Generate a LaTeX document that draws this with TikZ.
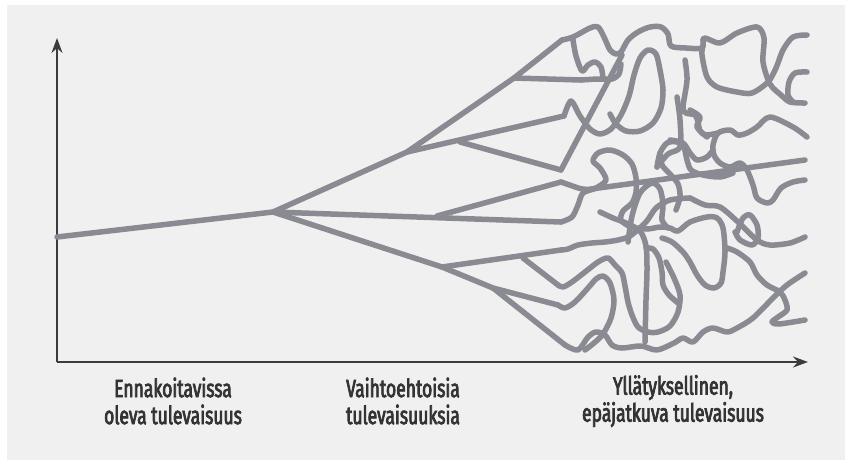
\documentclass[tikz,border=0pt]{standalone}
\usepackage{fontspec}
\usetikzlibrary{arrows.meta}
\newfontfamily\labfont{Fira Sans}[FakeStretch=0.70,FakeBold=3]
\definecolor{bgpage}{HTML}{F0F0F0}
\definecolor{strk}{HTML}{8A8A92}
\definecolor{axcol}{HTML}{3C3C3C}
\definecolor{txtcol}{HTML}{333333}
\begin{document}
\begin{tikzpicture}[x=1pt,y=-1pt,
  tg/.style={draw=strk,line width=5.5pt,line cap=round,line join=round},
  axisline/.style={draw=axcol,line width=1.5pt,-{Stealth[length=15pt,width=11pt]}},
  lab/.style={font=\labfont\fontsize{25}{27}\selectfont,text=txtcol,align=center,inner sep=0pt}]
\useasboundingbox (0,0) rectangle (848,461);
\fill[white] (0,0) rectangle (848,461);
\fill[bgpage] (7,5) rectangle (845,460);
% axes
\coordinate (O) at (57,362);
\coordinate (Ytop) at (57,38);
\coordinate (Xend) at (808,362);
\draw[axisline] (O) -- (Ytop);
\draw[axisline] (O) -- (Xend);
% straight branches
\coordinate (S) at (57,237);
\coordinate (B0) at (273,212);
\coordinate (U1) at (407,152);
\coordinate (U2) at (514,78);
\coordinate (S1) at (460,142);
\coordinate (M1) at (437,216);
\coordinate (L1) at (442,267);
\coordinate (L2) at (493,288);
\coordinate (L3) at (523,258);
\draw[tg] (S) -- (B0) -- (U1) -- (U2) -- (562,40);
\draw[tg] (U2) -- (581,80);
\draw[tg] (U1) -- (564,116);
\draw[tg] (S1) -- (561,170);
\draw[tg] (B0) -- (561,222);
\draw[tg] (M1) -- (561,182);
\draw[tg] (B0) -- (L1) -- (561,250);
\draw[tg] (L1) -- (L2) -- (558,305);
\draw[tg] (L3) -- (558,285);
\draw[tg] (L2) -- (565,345);
% tangle, upper part
\draw[tg] plot[smooth,tension=0.5] coordinates {(562,40) (573,37) (590,28) (598,27) (604,37) (610,50) (616,54) (621,52) (628,40) (638,32) (650,27) (661,27) (668,34) (671,46) (686,48) (702,48) (704,38) (720,43) (737,33) (757,27) (764,38) (763,62) (770,84) (781,95) (790,102) (805,103)};
\draw[tg] plot[smooth,tension=0.5] coordinates {(807,72) (795,73) (789,82) (788,95) (793,102)};
\draw[tg] plot[smooth,tension=0.5] coordinates {(807,35) (793,37) (783,50) (776,68) (768,82) (752,93) (737,92) (717,87) (707,77) (702,55) (703,45)};
\draw[tg] plot[smooth,tension=0.45] coordinates {(581,80) (598,79) (612,79) (619,74) (621,64)};
\draw[tg] plot[smooth,tension=0.5] coordinates {(573,40) (576,56) (582,71) (588,65) (595,62) (601,67) (603,78)};
\draw[tg] plot[smooth,tension=0.5] coordinates {(564,116) (571,101) (580,116) (590,129) (600,134) (611,129) (621,115) (629,96) (634,75) (640,58) (648,50) (656,54) (660,70) (663,90) (661,108) (653,123) (640,131) (626,131) (616,124) (610,114)};
\draw[tg] (561,170) -- (622,55);
\draw[tg,rounded corners=6pt] (561,182) -- (584,190) -- (805,160);
% tangle, middle
\draw[tg] plot[smooth,tension=0.5] coordinates {(561,222) (572,217) (578,205) (583,193) (596,188) (606,180) (600,168) (593,161) (598,153) (610,150) (623,155) (632,164) (636,178) (636,192) (632,203) (623,211) (621,220) (631,227) (647,229) (660,227) (670,228) (678,231) (690,222) (707,217) (717,218) (723,228) (725,252) (723,272) (721,283) (714,288) (705,285) (697,275) (690,262) (683,252) (672,242) (662,238)};
\draw[tg] plot[smooth,tension=0.5] coordinates {(600,212) (613,218) (626,223) (640,231) (646,246) (647,270) (646,300) (645,342)};
\draw[tg] plot[smooth,tension=0.5] coordinates {(646,248) (653,249) (659,258) (662,272) (663,285) (669,295) (678,303)};
\draw[tg] plot[smooth,tension=0.5] coordinates {(628,242) (632,216) (640,193) (652,183) (660,189) (663,205) (662,220) (668,228)};
\draw[tg] plot[smooth,tension=0.5] coordinates {(657,167) (660,153) (667,143) (677,142) (684,148) (687,160) (691,170) (703,175) (720,177) (733,173)};
\draw[tg] plot[smooth,tension=0.5] coordinates {(660,153) (662,165) (670,174) (678,184) (680,197) (676,210)};
\draw[tg] plot[smooth,tension=0.5] coordinates {(561,250) (568,249) (578,245) (592,243) (605,242) (618,240) (630,236) (646,222) (656,208) (670,200) (690,198)};
\draw[tg] plot[smooth,tension=0.5] coordinates {(690,198) (705,205) (720,207) (738,222) (757,240) (770,245) (790,243) (805,237)};
% tangle, lower part
\draw[tg] plot[smooth,tension=0.5] coordinates {(558,285) (563,287) (572,282) (585,272) (598,262) (608,258) (615,265) (622,273) (625,286) (628,302) (632,315) (638,327) (648,332) (658,332) (670,326) (678,312) (680,295) (674,278) (666,262)};
\draw[tg] plot[smooth,tension=0.5] coordinates {(558,305) (565,308) (575,302) (588,288) (596,279) (603,276) (610,283) (614,300) (611,318) (603,334) (594,343) (585,350)};
\draw[tg] plot[smooth,tension=0.5] coordinates {(565,345) (578,350) (588,337) (596,332) (605,335) (612,345) (622,348) (641,346) (657,350) (674,343) (683,338) (693,342) (703,332) (713,328) (727,332) (737,328) (753,318) (773,298) (787,285) (805,273)};
\draw[tg] plot[smooth,tension=0.5] coordinates {(737,232) (743,218) (750,215) (757,225) (758,238) (752,245) (740,240) (735,232)};
\draw[tg] plot[smooth,tension=0.5] coordinates {(727,248) (737,252) (750,262) (757,275) (767,285) (780,292) (785,300) (787,310) (778,317) (772,322) (779,324) (805,320)};
% tangle, right middle
\draw[tg] plot[smooth,tension=0.5] coordinates {(805,180) (793,182) (781,188) (773,200) (767,203) (757,198) (753,185) (747,170) (740,163) (730,167) (720,163) (714,155) (713,145) (718,133) (730,130) (738,135) (747,133) (757,127) (770,117) (793,127) (807,137)};
\draw[tg] plot[smooth,tension=0.5] coordinates {(670,140) (683,143) (690,153) (697,160) (707,157) (713,150)};
\draw[tg] plot[smooth,tension=0.5] coordinates {(685,60) (687,80) (683,107) (686,113) (695,115) (698,122) (700,131) (706,135) (718,133)};
\draw[tg] plot[smooth,tension=0.5] coordinates {(690,110) (700,117) (697,127) (707,137)};
\draw[tg] plot[smooth,tension=0.5] coordinates {(657,167) (668,154) (680,147) (680,120) (677,97)};
% labels
\node[lab] (l1) at (173,401) {Ennakoitavissa\\oleva tulevaisuus};
\node[lab] (l2) at (403,401) {Vaihtoehtoisia\\tulevaisuuksia};
\node[lab] (l3) at (673,401) {Yllätyksellinen,\\epäjatkuva tulevaisuus};
\end{tikzpicture}
\end{document}
